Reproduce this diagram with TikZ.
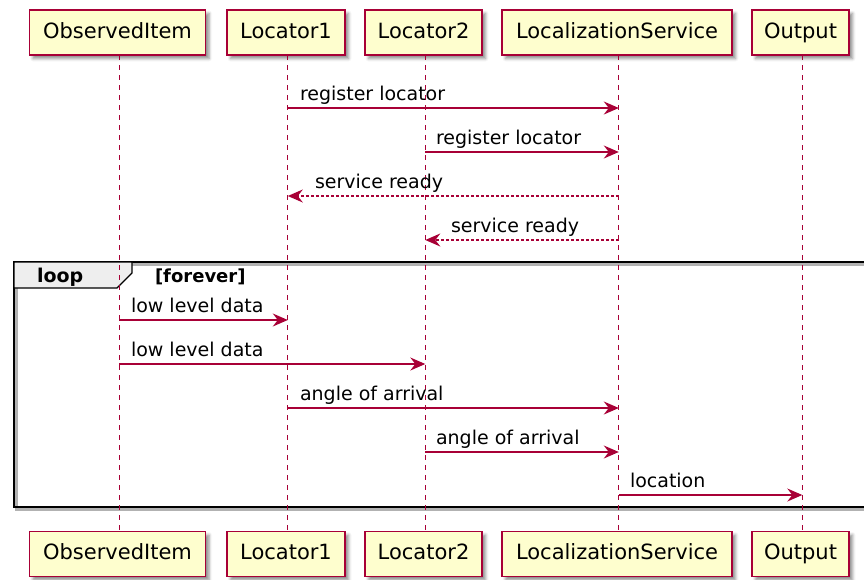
\documentclass[tikz,border=0pt]{standalone}
\usepackage{fontspec}
\setmainfont{DejaVu Sans}
\usetikzlibrary{arrows.meta,shadows.blur}
\definecolor{umlred}{HTML}{A80036}
\definecolor{umlfill}{HTML}{FEFECE}
\definecolor{tabgray}{HTML}{EEEEEE}
\begin{document}
\begin{tikzpicture}[x=1pt,y=-1pt,
  every node/.style={inner sep=0pt,outer sep=0pt},
  actor/.style={draw=umlred,fill=umlfill,line width=1.3pt,minimum height=45pt,
    font=\fontsize{21}{24}\selectfont,text height=15.5pt,text depth=4.5pt,
    blur shadow={shadow xshift=3.5pt,shadow yshift=-3.5pt,shadow blur radius=3pt,shadow opacity=45}},
  life/.style={draw=umlred,line width=1pt,dash pattern=on 5pt off 5pt},
  msg/.style={draw=umlred,line width=1.3pt,-{Stealth[length=15pt,width=13pt,inset=5pt]}},
  reply/.style={msg,dash pattern=on 3pt off 2pt},
  lbl/.style={font=\fontsize{19}{22}\selectfont,anchor=base west},
  frameline/.style={draw=black,line width=2.4pt},
]
\useasboundingbox (0,0) rectangle (864,579);

% loop frame with its soft shadow
\draw[black!30,line width=2.4pt] (16.5,264.5) rectangle (885,509.5);
\draw[frameline] (14,262) rectangle (885,507);
\draw[black,line width=1.2pt,fill=tabgray] (14,262) -- (132,262) -- (132,273) -- (117,288) -- (14,288) -- cycle;
\node[font=\bfseries\fontsize{19}{22}\selectfont,anchor=base west] (looplbl) at (37,282) {loop};
\node[font=\bfseries\fontsize{18}{21}\selectfont,anchor=base west] (guard) at (155,282) {[forever]};

% participants, top and bottom
\node[actor,minimum width=176pt] (oiT) at (117.5,32.5) {ObservedItem};
\node[actor,minimum width=118pt] (l1T) at (286,32.5) {Locator1};
\node[actor,minimum width=117pt] (l2T) at (423.5,32.5) {Locator2};
\node[actor,minimum width=230pt] (lsT) at (617,32.5) {LocalizationService};
\node[actor,minimum width=97pt] (ouT) at (800.5,32.5) {Output};

\node[actor,minimum width=176pt] (oiB) at (117.5,554) {ObservedItem};
\node[actor,minimum width=118pt] (l1B) at (286,554) {Locator1};
\node[actor,minimum width=117pt] (l2B) at (423.5,554) {Locator2};
\node[actor,minimum width=230pt] (lsB) at (617,554) {LocalizationService};
\node[actor,minimum width=97pt] (ouB) at (800.5,554) {Output};

% lifelines
\foreach \p in {oi,l1,l2,ls,ou}{
  \draw[life] ([xshift=1.8pt]\p T.south) -- ([xshift=1.8pt]\p B.north);
  \path ([xshift=1.8pt]\p T.south) coordinate (x\p);
}

% messages
\draw[msg] (xl1 |- 0,108) -- (xls |- 0,108);
\node[lbl] (m1) at (300,100) {register locator};
\draw[msg] (xl2 |- 0,152) -- (xls |- 0,152);
\node[lbl] (m2) at (436,144) {register locator};
\draw[reply] (xls |- 0,196) -- (xl1 |- 0,196);
\node[lbl] (m3) at (315,188) {service ready};
\draw[reply] (xls |- 0,240) -- (xl2 |- 0,240);
\node[lbl] (m4) at (451,232) {service ready};

\draw[msg] (xoi |- 0,320) -- (xl1 |- 0,320);
\node[lbl] (m5) at (131,312) {low level data};
\draw[msg] (xoi |- 0,364) -- (xl2 |- 0,364);
\node[lbl] (m6) at (131,356) {low level data};
\draw[msg] (xl1 |- 0,408) -- (xls |- 0,408);
\node[lbl] (m7) at (300,400) {angle of arrival};
\draw[msg] (xl2 |- 0,452) -- (xls |- 0,452);
\node[lbl] (m8) at (436,444) {angle of arrival};
\draw[msg] (xls |- 0,495) -- (xou |- 0,495);
\node[lbl] (m9) at (630,487) {location};
\end{tikzpicture}
\end{document}
